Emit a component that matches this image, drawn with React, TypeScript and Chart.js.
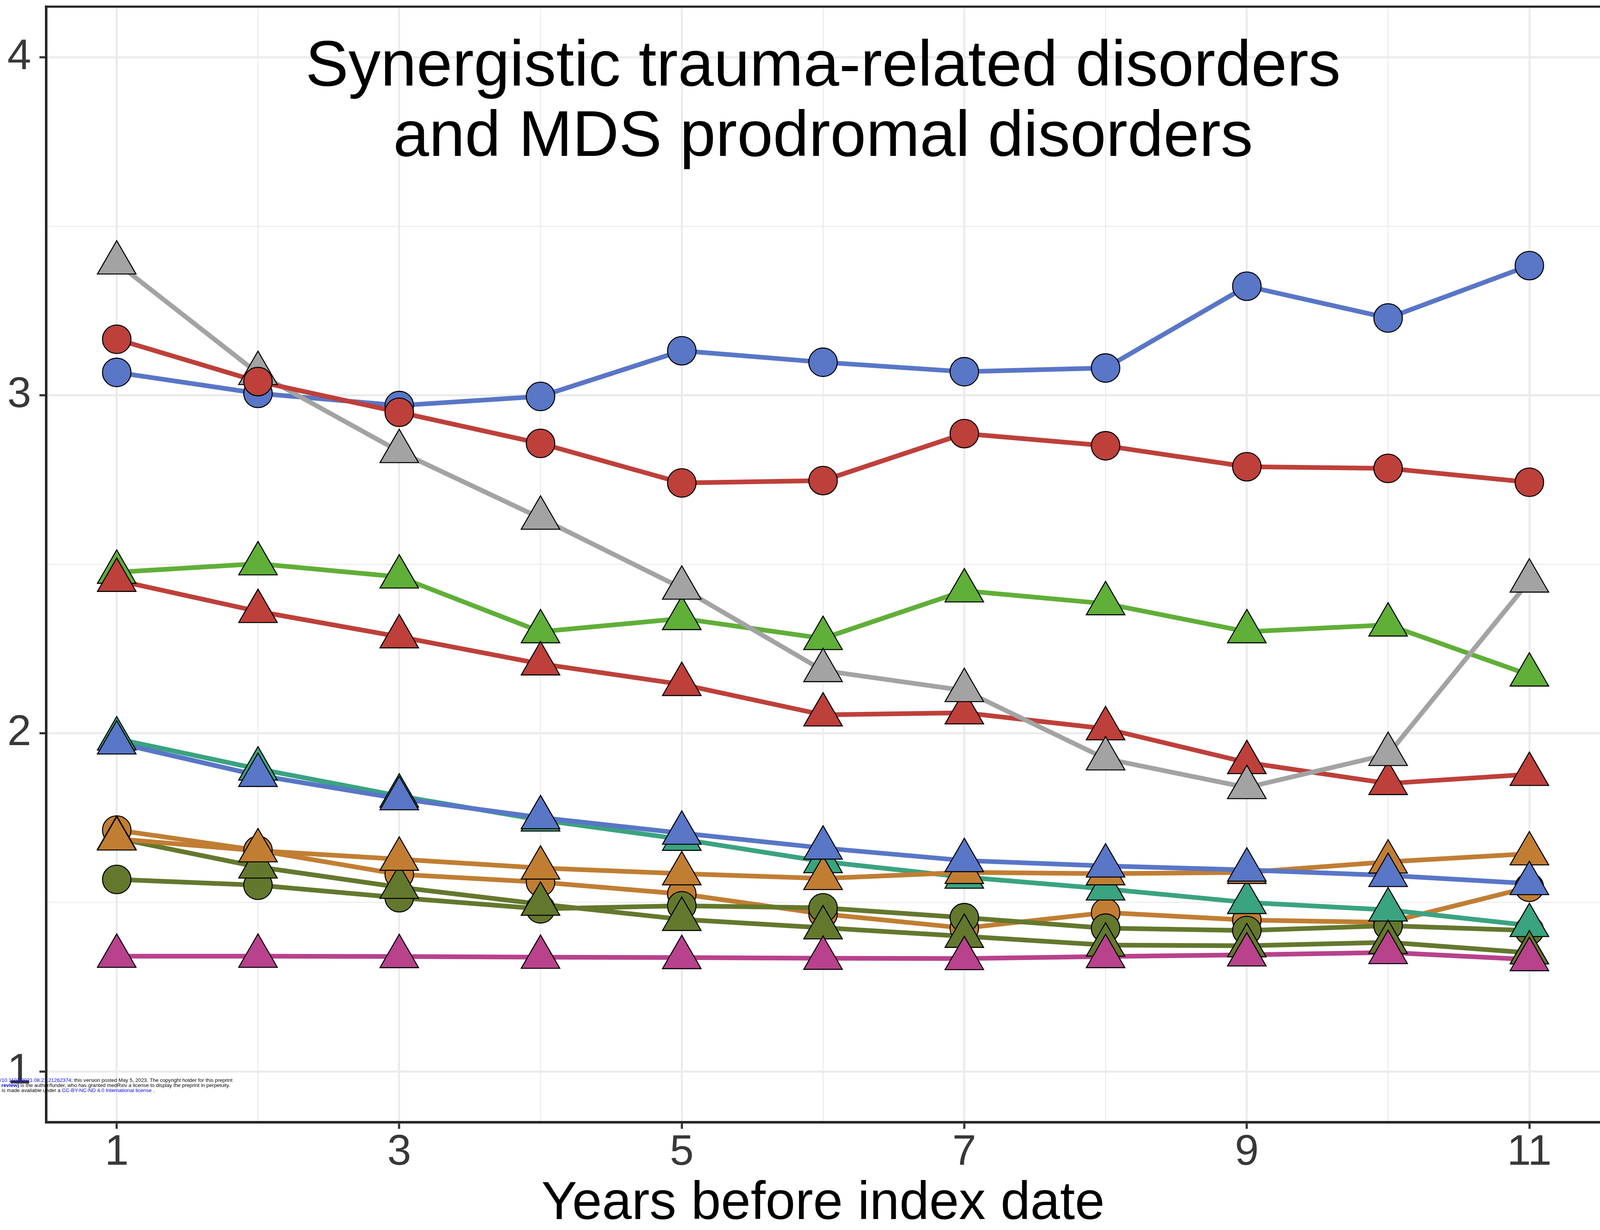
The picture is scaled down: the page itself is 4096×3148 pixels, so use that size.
import React, { useEffect, useRef } from 'react';
import { Chart, registerables } from 'chart.js';

Chart.register(...registerables);

// ---------------- data ----------------
const years = [1, 2, 3, 4, 5, 6, 7, 8, 9, 10, 11];

const blueCircle = [3.068, 3.006, 2.970, 2.997, 3.132, 3.098, 3.070, 3.081, 3.323, 3.229, 3.384];
const redCircle = [3.166, 3.041, 2.950, 2.858, 2.741, 2.748, 2.887, 2.851, 2.789, 2.784, 2.743];
const grayTriangle = [3.392, 3.065, 2.834, 2.637, 2.430, 2.186, 2.127, 1.925, 1.840, 1.938, 2.451];
const greenTriangle = [2.477, 2.502, 2.463, 2.301, 2.340, 2.281, 2.422, 2.384, 2.301, 2.321, 2.173];
const redTriangle = [2.453, 2.361, 2.286, 2.206, 2.145, 2.055, 2.061, 2.014, 1.914, 1.852, 1.879];
const blueTriangle = [1.972, 1.876, 1.807, 1.751, 1.705, 1.661, 1.624, 1.608, 1.596, 1.580, 1.556];
const tealTriangle = [1.984, 1.895, 1.815, 1.744, 1.687, 1.621, 1.575, 1.540, 1.500, 1.478, 1.432];
const orangeTriangle = [1.688, 1.653, 1.628, 1.602, 1.585, 1.571, 1.589, 1.585, 1.589, 1.620, 1.644];
const orangeCircle = [1.714, 1.654, 1.583, 1.560, 1.525, 1.466, 1.424, 1.470, 1.448, 1.441, 1.545];
const oliveTriangle = [1.690, 1.605, 1.545, 1.495, 1.450, 1.425, 1.400, 1.374, 1.372, 1.382, 1.351];
const oliveCircle = [1.568, 1.551, 1.514, 1.481, 1.490, 1.484, 1.455, 1.424, 1.417, 1.431, 1.417];
const pinkTriangle = [1.341, 1.341, 1.340, 1.338, 1.337, 1.335, 1.334, 1.340, 1.345, 1.352, 1.331];

const xMajorTicks = [1, 3, 5, 7, 9, 11];
const xMinorTicks = [2, 4, 6, 8, 10];
const yMajorTicks = [1, 2, 3, 4];
const yMinorTicks = [1.5, 2.5, 3.5];

const titleLines = ['Synergistic trauma-related disorders', 'and MDS prodromal disorders'];
const xAxisTitle = 'Years before index date';

const watermarkLines = [
  [
    { text: '/10.1101/2021.08.21.21262374', blue: true, bold: false },
    { text: '; this version posted May 5, 2023. The copyright holder for this preprint', blue: false, bold: false },
  ],
  [
    { text: 'review)', blue: true, bold: true },
    { text: ' is the author/funder, who has granted medRxiv a license to display the preprint in perpetuity.', blue: false, bold: false },
  ],
  [
    { text: 'is made available under a ', blue: false, bold: false },
    { text: 'CC-BY-NC-ND 4.0 International license', blue: true, bold: false },
    { text: ' .', blue: false, bold: false },
  ],
];

// ---------------- styles ----------------
const BLUE = '#5976C7';
const RED = '#BE403A';
const GRAY = '#A3A3A3';
const GREEN = '#60AF38';
const TEAL = '#3AA380';
const ORANGE = '#C17E33';
const OLIVE = '#64782D';
const PINK = '#B8428C';

// draw order: first = bottom, last = top
const series = [
  { values: orangeCircle, color: ORANGE, shape: 'circle' },
  { values: oliveCircle, color: OLIVE, shape: 'circle' },
  { values: blueCircle, color: BLUE, shape: 'circle' },
  { values: greenTriangle, color: GREEN, shape: 'triangle' },
  { values: redTriangle, color: RED, shape: 'triangle' },
  { values: grayTriangle, color: GRAY, shape: 'triangle' },
  { values: redCircle, color: RED, shape: 'circle' },
  { values: tealTriangle, color: TEAL, shape: 'triangle' },
  { values: oliveTriangle, color: OLIVE, shape: 'triangle' },
  { values: orangeTriangle, color: ORANGE, shape: 'triangle' },
  { values: blueTriangle, color: BLUE, shape: 'triangle' },
  { values: pinkTriangle, color: PINK, shape: 'triangle' },
];

const FONT = "'Liberation Sans', Arial, Helvetica, sans-serif";
const AXIS_COLOR = '#262626';
const TICK_TEXT = '#383838';
const GRID = '#EBEBEB';
const W = 4096;
const H = 3148;

const overlayPlugin = {
  id: 'overlay',
  afterDraw(chart: any) {
    const { ctx, chartArea } = chart;
    ctx.save();
    // top panel border
    ctx.strokeStyle = AXIS_COLOR;
    ctx.lineWidth = 5.6;
    ctx.beginPath();
    ctx.moveTo(chartArea.left - 3.2, chartArea.top);
    ctx.lineTo(chart.width, chartArea.top);
    ctx.stroke();

    // title
    ctx.fillStyle = '#000';
    ctx.font = `165px ${FONT}`;
    ctx.textAlign = 'center';
    ctx.textBaseline = 'alphabetic';
    const cx = (chartArea.left + chartArea.right) / 2;
    titleLines.forEach((t, i) => ctx.fillText(t, cx, chartArea.top + 202 + i * 180));

    // preprint watermark
    ctx.textAlign = 'left';
    const base = 12;
    ctx.font = `${base}px ${FONT}`;
    let w1 = 0;
    watermarkLines[0].forEach((s) => { w1 += ctx.measureText(s.text).width; });
    const fs = (base * 596) / w1;
    const starts = [0, 3.5, 4.5];
    const baselines = [2769, 2782, 2795];
    watermarkLines.forEach((line, li) => {
      let x = starts[li];
      line.forEach((seg) => {
        ctx.font = `${seg.bold ? 'bold ' : ''}${fs}px ${FONT}`;
        ctx.fillStyle = seg.blue ? '#0000EE' : '#000';
        ctx.fillText(seg.text, x, baselines[li]);
        x += ctx.measureText(seg.text).width;
      });
    });
    ctx.restore();
  },
};

function buildConfig(): any {
  const n = series.length;
  const lineSets = series.map((s, i) => ({
    type: 'line',
    data: years.map((x, k) => ({ x, y: s.values[k] })),
    borderColor: s.color,
    backgroundColor: s.color,
    borderWidth: 12,
    borderJoinStyle: 'round',
    borderCapStyle: 'butt',
    pointRadius: 0,
    pointHoverRadius: 0,
    fill: false,
    tension: 0,
    order: 1000 + (n - i),
  }));
  const pointSets = series.map((s, i) => ({
    type: 'line',
    data: years.map((x, k) => ({ x, y: s.values[k] })),
    showLine: false,
    pointStyle: s.shape,
    pointRadius: s.shape === 'circle' ? 36.5 : 57,
    pointHoverRadius: s.shape === 'circle' ? 36.5 : 57,
    pointBackgroundColor: s.color,
    pointBorderColor: '#000',
    pointBorderWidth: 2.6,
    borderColor: s.color,
    backgroundColor: s.color,
    order: n - i,
  }));

  const isMajorX = (v: number) => xMajorTicks.includes(v);
  const isMajorY = (v: number) => yMajorTicks.includes(v);

  return {
    type: 'line',
    data: { datasets: [...lineSets, ...pointSets] },
    plugins: [overlayPlugin],
    options: {
      responsive: false,
      maintainAspectRatio: false,
      animation: false,
      devicePixelRatio: 1,
      events: [],
      layout: { autoPadding: false, padding: { top: 17, left: 0, right: 0, bottom: 0 } },
      plugins: {
        legend: { display: false },
        tooltip: { enabled: false },
        title: { display: false },
      },
      scales: {
        x: {
          type: 'linear',
          min: 0.5,
          max: 11.5,
          bounds: 'data',
          afterBuildTicks: (scale: any) => {
            scale.ticks = [...xMajorTicks, ...xMinorTicks].sort((a, b) => a - b).map((v) => ({ value: v }));
          },
          afterFit: (scale: any) => {
            scale.height = H - 2872;
            scale.paddingLeft = 0;
            scale.paddingRight = 0;
          },
          ticks: {
            autoSkip: false,
            maxRotation: 0,
            minRotation: 0,
            padding: 7,
            color: TICK_TEXT,
            font: { family: FONT, size: 110, lineHeight: 1 },
            callback: (v: number) => (isMajorX(v) ? String(v) : ''),
          },
          grid: {
            color: GRID,
            lineWidth: (c: any) => (c.tick && isMajorX(c.tick.value) ? 5.2 : 2.6),
            drawTicks: true,
            tickLength: 17,
            tickWidth: 5.5,
            tickColor: (c: any) => (c.tick && isMajorX(c.tick.value) ? '#333333' : 'rgba(0,0,0,0)'),
          },
          border: { display: true, color: AXIS_COLOR, width: 6.5 },
          title: {
            display: true,
            text: xAxisTitle,
            color: '#000',
            font: { family: FONT, size: 137, lineHeight: 0.9 },
            padding: { top: 0, bottom: 4 },
          },
        },
        y: {
          type: 'linear',
          min: 0.85,
          max: 4.15,
          bounds: 'data',
          afterBuildTicks: (scale: any) => {
            scale.ticks = [...yMajorTicks, ...yMinorTicks].sort((a, b) => a - b).map((v) => ({ value: v }));
          },
          afterFit: (scale: any) => {
            scale.width = 118;
            scale.paddingTop = 0;
            scale.paddingBottom = 0;
          },
          ticks: {
            padding: 21,
            color: TICK_TEXT,
            font: { family: FONT, size: 110, lineHeight: 1 },
            callback: (v: number) => (isMajorY(v) ? String(v) : ''),
          },
          grid: {
            color: GRID,
            lineWidth: (c: any) => (c.tick && isMajorY(c.tick.value) ? 5.2 : 2.6),
            drawTicks: true,
            tickLength: 17,
            tickWidth: 5.5,
            tickColor: (c: any) => (c.tick && isMajorY(c.tick.value) ? '#333333' : 'rgba(0,0,0,0)'),
          },
          border: { display: true, color: AXIS_COLOR, width: 6.5 },
        },
      },
    },
  };
}

export default function App() {
  const ref = useRef<HTMLCanvasElement>(null);
  useEffect(() => {
    document.body.style.margin = '0';
    const chart = new Chart(ref.current as HTMLCanvasElement, buildConfig());
    return () => chart.destroy();
  }, []);
  return (
    <div style={{ position: 'absolute', left: 0, top: 0, width: W, height: H, background: '#fff', overflow: 'hidden' }}>
      <canvas ref={ref} width={W} height={H} style={{ display: 'block', width: W, height: H }} />
    </div>
  );
}
